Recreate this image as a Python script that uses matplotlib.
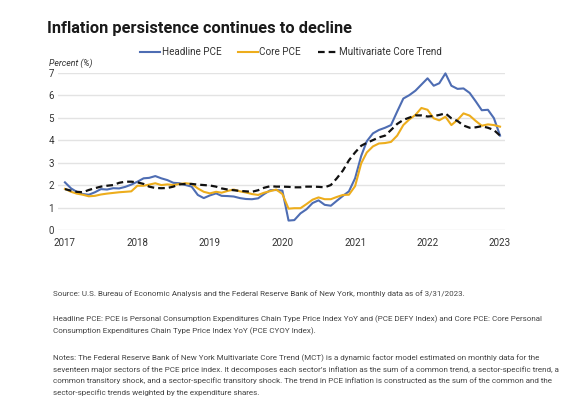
import matplotlib
matplotlib.use("Agg")
import matplotlib.pyplot as plt
import pandas as pd
from matplotlib.lines import Line2D

# ---------------- data ----------------
start_month = "2017-01-01"
n_months = 73

headline_pce = [2.12, 1.85, 1.70, 1.60, 1.57, 1.68, 1.82, 1.80, 1.86, 1.85, 1.92, 2.02,
                2.15, 2.30, 2.32, 2.40, 2.30, 2.22, 2.10, 2.08, 2.00, 1.93, 1.56, 1.42,
                1.54, 1.63, 1.52, 1.51, 1.49, 1.42, 1.38, 1.37, 1.41, 1.60, 1.77, 1.78,
                1.75, 0.42, 0.44, 0.74, 0.92, 1.20, 1.32, 1.12, 1.08, 1.30, 1.52, 1.72,
                2.30, 3.30, 3.95, 4.30, 4.45, 4.55, 4.67, 5.27, 5.85, 6.00, 6.20, 6.47,
                6.75, 6.42, 6.53, 6.97, 6.42, 6.28, 6.30, 6.10, 5.72, 5.33, 5.35, 4.98,
                4.20]

core_pce = [1.83, 1.70, 1.62, 1.57, 1.50, 1.52, 1.58, 1.62, 1.65, 1.68, 1.70, 1.72,
            1.97, 1.97, 2.02, 2.08, 2.00, 2.03, 2.00, 2.05, 2.08, 2.05, 1.85, 1.70,
            1.63, 1.70, 1.66, 1.74, 1.80, 1.72, 1.67, 1.60, 1.56, 1.66, 1.73, 1.80,
            1.60, 0.95, 0.97, 0.97, 1.15, 1.35, 1.45, 1.37, 1.37, 1.47, 1.56, 1.57,
            1.95, 2.97, 3.45, 3.72, 3.85, 3.87, 3.92, 4.20, 4.67, 4.92, 5.12, 5.43,
            5.35, 4.97, 4.88, 5.04, 4.67, 4.90, 5.19, 5.09, 4.85, 4.64, 4.70, 4.67,
            4.60]

mct = [1.82, 1.75, 1.70, 1.68, 1.78, 1.86, 1.93, 1.97, 2.00, 2.10, 2.15, 2.15,
       2.12, 2.05, 1.93, 1.87, 1.86, 1.87, 1.93, 2.03, 2.05, 2.05, 2.02, 2.00,
       1.98, 1.93, 1.85, 1.80, 1.77, 1.74, 1.72, 1.70, 1.77, 1.88, 1.95, 1.93,
       1.93, 1.92, 1.90, 1.90, 1.93, 1.93, 1.92, 1.90, 2.00, 2.30, 2.65, 3.10,
       3.45, 3.75, 3.88, 4.00, 4.12, 4.20, 4.45, 4.72, 4.90, 5.00, 5.10, 5.10,
       5.05, 5.07, 5.12, 5.19, 4.97, 4.85, 4.65, 4.55, 4.57, 4.62, 4.55, 4.45,
       4.20]

series_labels = ["Headline PCE", "Core PCE", "Multivariate Core Trend"]
year_ticks = ["2017", "2018", "2019", "2020", "2021", "2022", "2023"]
y_ticks = [0, 1, 2, 3, 4, 5, 6, 7]

title = "Inflation persistence continues to decline"
y_label = "Percent (%)"
notes = [
    "Source: U.S. Bureau of Economic Analysis and the Federal Reserve Bank of New York, monthly data as of 3/31/2023.",
    "Headline PCE: PCE is Personal Consumption Expenditures Chain Type Price Index YoY and (PCE DEFY Index) and Core PCE: Core Personal\n"
    "Consumption Expenditures Chain Type Price Index YoY (PCE CYOY Index).",
    "Notes: The Federal Reserve Bank of New York Multivariate Core Trend (MCT) is a dynamic factor model estimated on monthly data for the\n"
    "seventeen major sectors of the PCE price index. It decomposes each sector\u2019s inflation as the sum of a common trend, a sector-specific trend, a\n"
    "common transitory shock, and a sector-specific transitory shock. The trend in PCE inflation is constructed as the sum of the common and the\n"
    "sector-specific trends weighted by the expenditure shares.",
]

# ---------------- style ----------------
BLUE = "#4E6DB3"
GOLD = "#EDAD1C"
BLACK = "#111111"
GRID = "#E3E3E3"
TXT = "#333333"

plt.rcParams["font.family"] = ["Roboto", "DejaVu Sans"]

W, H = 567, 412
fig = plt.figure(figsize=(W / 100, H / 100), dpi=100)
fig.patch.set_facecolor("white")

def fx(px):
    return px / W

def fy(py):
    return 1 - py / H

ax_left, ax_right, ax_top, ax_bottom = 58, 505, 72.7, 230
ax = fig.add_axes([fx(ax_left), fy(ax_bottom), fx(ax_right - ax_left), (ax_bottom - ax_top) / H])

dates = pd.date_range(start_month, periods=n_months, freq="MS")

DASH = (0, (3.0, 1.8))
ax.plot(dates, headline_pce, color=BLUE, lw=1.5, clip_on=False, zorder=3)
ax.plot(dates, core_pce, color=GOLD, lw=1.5, clip_on=False, zorder=3)
ax.plot(dates, mct, color=BLACK, lw=1.6, ls=DASH, clip_on=False, zorder=4)

ax.set_ylim(0, 7)
ax.set_yticks(y_ticks)
ax.set_yticklabels([str(v) for v in y_ticks])
ax.set_xlim(pd.Timestamp("2016-11-27"), pd.Timestamp("2023-01-26"))
ax.set_xticks([pd.Timestamp(f"{y}-01-01") for y in year_ticks])
ax.set_xticklabels(year_ticks)

ax.grid(axis="y", color=GRID, lw=1.0, zorder=0)
ax.grid(axis="x", visible=False)
for s in ax.spines.values():
    s.set_visible(False)
ax.tick_params(axis="both", length=0, labelsize=7, colors=TXT)
ax.tick_params(axis="y", pad=3)
ax.tick_params(axis="x", pad=6)
ax.set_axisbelow(True)

# title
fig.text(fx(47), fy(28), title, fontsize=11.8, fontweight="bold", color="#1a1a1a",
         ha="left", va="center")

# y label
fig.text(fx(49), fy(63), y_label, fontsize=6.3, style="italic", color=TXT, ha="left", va="center")

# legend
handles = [Line2D([], [], color=BLUE, lw=1.5),
           Line2D([], [], color=GOLD, lw=1.5),
           Line2D([], [], color=BLACK, lw=1.6, ls=DASH)]
fig.legend(handles, series_labels, loc="center", bbox_to_anchor=(fx(291), fy(52)),
           ncol=3, frameon=False, fontsize=7.1, handlelength=2.0, handletextpad=0.15,
           columnspacing=1.7, labelcolor=TXT)

# notes
note_y = [290, 315, 354]
for t, py in zip(notes, note_y):
    fig.text(fx(53), fy(py), t, fontsize=5.8, color="#444444", ha="left", va="top",
             linespacing=1.8)

fig.savefig("out.png", dpi=100, facecolor="white")
